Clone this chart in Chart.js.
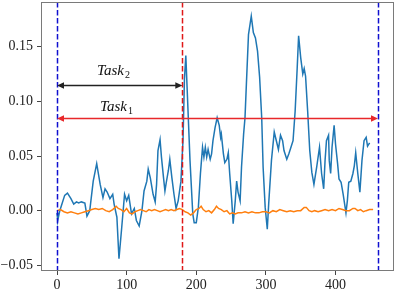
<!DOCTYPE html>
<html>
<head>
<meta charset="utf-8">
<script src="https://cdn.jsdelivr.net/npm/chart.js@4/dist/chart.umd.min.js"></script>
<style>
  html, body { margin: 0; padding: 0; background: #fff; }
  #wrap { width: 398px; height: 292px; }
</style>
</head>
<body>
<div id="wrap"><canvas id="chart" width="398" height="292"></canvas></div>
<script>
// series
const blueX = [0, 1, 4, 11, 15, 20, 24, 28, 31, 35, 40, 43, 47, 52, 57, 62, 66, 69, 72, 76, 80, 82, 86, 89, 93, 97, 100, 103, 107, 111, 114, 118, 122, 125, 129, 131, 134, 138, 141, 143, 145, 148, 150, 153, 155, 157, 160, 162, 165, 168, 171, 174, 178, 181, 183, 185, 187, 191, 195, 197, 200, 203, 206, 209, 211, 213, 215, 217, 220, 222, 224, 227, 230, 233, 235, 236, 239, 241, 244, 246, 248, 251, 253, 256, 258, 260, 263, 265, 268, 270, 272, 275, 279, 282, 285, 288, 291, 294, 296, 299, 302, 304, 308, 312, 315, 318, 321, 324, 326, 330, 333, 336, 339, 342, 345, 347, 350, 353, 355, 357, 360, 363, 366, 369, 373, 377, 380, 383, 385, 387, 390, 391, 393, 395, 398, 400, 403, 405, 408, 411, 415, 417, 419, 422, 425, 427, 429, 432, 435, 438, 441, 444, 446, 449];
const blueY = [-0.002, -0.009, 0.000, 0.014, 0.016, 0.011, 0.006, 0.008, 0.007, 0.008, 0.007, -0.005, 0.000, 0.027, 0.043, 0.024, 0.012, 0.020, 0.017, 0.011, 0.015, 0.006, -0.006, -0.044, -0.015, 0.015, 0.009, 0.014, -0.003, 0.002, -0.009, -0.014, 0.000, 0.018, 0.027, 0.038, 0.030, 0.015, 0.008, 0.024, 0.055, 0.065, 0.049, 0.030, 0.018, 0.026, 0.037, 0.047, 0.030, 0.015, 0.002, 0.009, 0.027, 0.065, 0.120, 0.142, 0.110, 0.046, -0.003, -0.011, -0.011, 0.003, 0.034, 0.058, 0.049, 0.058, 0.049, 0.056, 0.047, 0.052, 0.064, 0.076, 0.085, 0.078, 0.067, 0.070, 0.052, 0.044, 0.047, 0.053, 0.034, 0.009, -0.012, 0.009, 0.027, 0.017, 0.009, 0.040, 0.070, 0.085, 0.116, 0.161, 0.178, 0.163, 0.158, 0.146, 0.122, 0.085, 0.040, 0.003, -0.017, 0.006, 0.046, 0.072, 0.064, 0.056, 0.069, 0.064, 0.055, 0.047, 0.052, 0.058, 0.064, 0.091, 0.131, 0.160, 0.140, 0.125, 0.130, 0.123, 0.091, 0.055, 0.035, 0.024, 0.040, 0.058, 0.034, 0.020, 0.046, 0.064, 0.069, 0.046, 0.034, 0.058, 0.078, 0.061, 0.043, 0.029, 0.026, 0.015, -0.002, 0.009, 0.026, 0.027, 0.034, 0.041, 0.053, 0.034, 0.017, 0.046, 0.064, 0.067, 0.059, 0.062];

const orangeX = [0, 5, 10, 15, 20, 25, 30, 35, 40, 45, 50, 55, 60, 65, 70, 75, 80, 85, 88, 92, 96, 100, 104, 108, 112, 116, 120, 124, 128, 132, 136, 140, 144, 148, 152, 156, 160, 164, 168, 172, 176, 180, 184, 188, 192, 196, 200, 204, 207, 210, 214, 218, 222, 226, 229, 232, 236, 240, 244, 248, 252, 256, 260, 265, 270, 275, 280, 285, 290, 295, 300, 305, 310, 315, 320, 325, 330, 335, 340, 345, 350, 355, 358, 362, 366, 370, 375, 380, 385, 390, 395, 400, 405, 410, 415, 420, 425, 428, 432, 436, 440, 444, 449, 454];
const orangeY = [0.000, 0.001, -0.001, -0.002, -0.001, -0.002, -0.003, -0.002, -0.001, 0.000, 0.001, 0.002, 0.001, 0.002, 0.000, -0.001, 0.001, 0.004, 0.002, 0.001, -0.001, 0.002, -0.002, -0.003, -0.001, 0.000, 0.001, 0.000, -0.001, 0.001, 0.000, 0.001, 0.000, -0.001, 0.000, 0.001, 0.000, 0.001, 0.000, 0.001, 0.002, 0.001, -0.001, -0.002, -0.004, -0.002, 0.001, 0.002, 0.004, 0.001, -0.001, 0.000, -0.002, 0.001, 0.004, 0.002, 0.001, -0.001, 0.000, -0.003, -0.002, -0.003, -0.002, -0.002, -0.001, -0.002, -0.001, -0.002, -0.002, -0.001, -0.001, -0.002, 0.000, -0.001, 0.001, 0.000, -0.001, 0.000, -0.001, 0.000, 0.000, 0.003, 0.003, 0.000, -0.001, 0.000, -0.001, 0.000, 0.001, 0.000, 0.001, 0.000, 0.002, 0.001, 0.000, 0.000, 0.002, 0.002, 0.000, 0.001, -0.001, 0.000, 0.001, 0.001];

const xTicks = [0, 100, 200, 300, 400];
const yTicks = [-0.05, 0, 0.05, 0.10, 0.15];
const yTickLabels = ['\u22120.05', '0.00', '0.05', '0.10', '0.15'];

// vertical markers and the two task spans
const boundaryLines = [0, 461];
const switchLines = [180];
const spanStart = [0, 0];
const spanEnd = [180, 461];
const spanY = [0.115, 0.085];
const spanSub = ['2', '1'];
const spanLabelX = [81, 85.5];
const spanLabelY = [0.1243, 0.0914];
const spanColors = ['#222222', '#e8282b'];

const overlay = {
  id: 'overlay',
  afterDatasetsDraw(chart) {
    const { ctx, chartArea: a, scales: { x, y } } = chart;
    ctx.save();

    // dashed vertical lines
    const vline = (v, color) => {
      const px = Math.round(x.getPixelForValue(v)) + 0.5;
      ctx.strokeStyle = color;
      ctx.lineWidth = 1.5;
      ctx.setLineDash([5.5, 2.5]);
      ctx.beginPath();
      ctx.moveTo(px, a.top);
      ctx.lineTo(px, a.bottom);
      ctx.stroke();
    };
    boundaryLines.forEach(v => vline(v, '#1010d0'));
    switchLines.forEach(v => vline(v, '#e01818'));
    ctx.setLineDash([]);

    // double arrows
    spanStart.forEach((s, i) => {
      const x0 = x.getPixelForValue(s);
      const x1 = x.getPixelForValue(spanEnd[i]);
      const py = Math.round(y.getPixelForValue(spanY[i])) + 0.5;
      ctx.strokeStyle = spanColors[i];
      ctx.fillStyle = spanColors[i];
      ctx.lineWidth = 1.5;
      ctx.beginPath();
      ctx.moveTo(x0 + 3, py);
      ctx.lineTo(x1 - 3, py);
      ctx.stroke();
      [[x0, 1], [x1, -1]].forEach(([tx, d]) => {
        ctx.beginPath();
        ctx.moveTo(tx, py);
        ctx.lineTo(tx + d * 7, py - 3.2);
        ctx.lineTo(tx + d * 7, py + 3.2);
        ctx.closePath();
        ctx.fill();
      });

      // label: italic Task with upright subscript
      const main = 'Task';
      ctx.font = 'italic 15px "Liberation Serif"';
      const w1 = ctx.measureText(main).width;
      ctx.font = '10px "Liberation Serif"';
      const w2 = ctx.measureText(spanSub[i]).width;
      const cx = x.getPixelForValue(spanLabelX[i]);
      const by = y.getPixelForValue(spanLabelY[i]);
      const left = cx - (w1 + w2 + 1) / 2;
      ctx.fillStyle = '#111';
      ctx.textBaseline = 'alphabetic';
      ctx.textAlign = 'left';
      ctx.font = 'italic 15px "Liberation Serif"';
      ctx.fillText(main, left, by);
      ctx.font = '10px "Liberation Serif"';
      ctx.fillText(spanSub[i], left + w1 + 1, by + 3);
    });

    // frame
    ctx.strokeStyle = '#7a7a7a';
    ctx.lineWidth = 1;
    ctx.strokeRect(Math.round(a.left) + 0.5, Math.round(a.top) + 0.5,
                   Math.round(a.right - a.left) - 1, Math.round(a.bottom - a.top) - 1);
    ctx.restore();
  }
};

const pts = (xs, ys) => xs.map((v, i) => ({ x: v, y: ys[i] }));

new Chart(document.getElementById('chart'), {
  type: 'line',
  data: {
    datasets: [
      {
        data: pts(blueX, blueY),
        borderColor: '#1f77b4',
        borderWidth: 1.5,
        pointRadius: 0,
        tension: 0,
        order: 2
      },
      {
        data: pts(orangeX, orangeY),
        borderColor: '#ff7f0e',
        borderWidth: 1.5,
        pointRadius: 0,
        tension: 0,
        order: 1
      }
    ]
  },
  options: {
    responsive: false,
    animation: false,
    devicePixelRatio: 1,
    layout: { padding: { top: 2, right: 4, left: 0, bottom: 0 } },
    plugins: { legend: { display: false }, tooltip: { enabled: false } },
    scales: {
      x: {
        type: 'linear',
        min: -23,
        max: 484,
        afterBuildTicks: s => { s.ticks = xTicks.map(v => ({ value: v })); },
        afterFit: s => { s.height = 21; s.paddingLeft = 0; s.paddingRight = 0; },
        grid: { drawOnChartArea: false, drawTicks: true, tickLength: 4, color: '#444' },
        border: { display: false },
        ticks: {
          color: '#222',
          padding: 2,
          maxRotation: 0,
          font: { family: 'Liberation Serif', size: 14 },
          callback: v => String(v)
        }
      },
      y: {
        type: 'linear',
        min: -0.0552,
        max: 0.1909,
        afterBuildTicks: s => { s.ticks = yTicks.map(v => ({ value: v })); },
        afterFit: s => { s.width = 41; s.paddingTop = 0; s.paddingBottom = 0; },
        grid: { drawOnChartArea: false, drawTicks: true, tickLength: 4, color: '#444' },
        border: { display: false },
        ticks: {
          color: '#222',
          padding: 4,
          font: { family: 'Liberation Serif', size: 14 },
          callback: (v, i) => yTickLabels[i]
        }
      }
    }
  },
  plugins: [overlay]
});
</script>
</body>
</html>
